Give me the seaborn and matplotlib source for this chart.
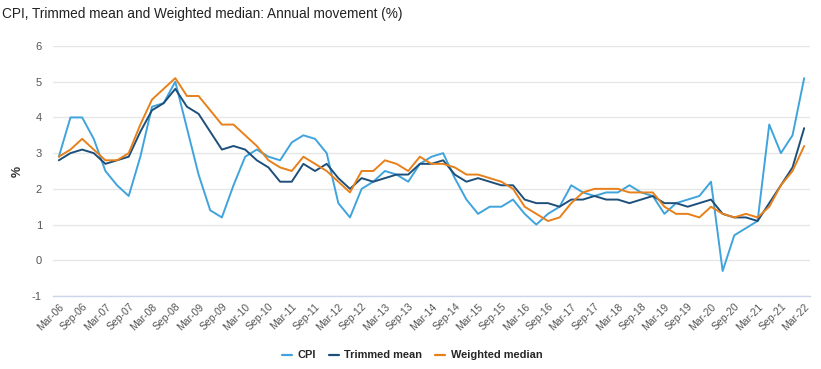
import numpy as np
import pandas as pd
import matplotlib
matplotlib.use("Agg")
import matplotlib.pyplot as plt
import seaborn as sns

# quarterly periods Mar-06 .. Mar-22
quarters = []
for yr in range(6, 23):
    for m in ["Mar", "Jun", "Sep", "Dec"]:
        quarters.append(f"{m}-{yr:02d}")
quarters = quarters[:65]

cpi = [2.9, 4.0, 4.0, 3.4, 2.5, 2.1, 1.8, 2.9, 4.3, 4.4, 5.0, 3.7, 2.4, 1.4, 1.2, 2.1,
       2.9, 3.1, 2.9, 2.8, 3.3, 3.5, 3.4, 3.0, 1.6, 1.2, 2.0, 2.2, 2.5, 2.4, 2.2, 2.7,
       2.9, 3.0, 2.3, 1.7, 1.3, 1.5, 1.5, 1.7, 1.3, 1.0, 1.3, 1.5, 2.1, 1.9, 1.8, 1.9,
       1.9, 2.1, 1.9, 1.8, 1.3, 1.6, 1.7, 1.8, 2.2, -0.3, 0.7, 0.9, 1.1, 3.8, 3.0, 3.5,
       5.1]
trimmed_mean = [2.8, 3.0, 3.1, 3.0, 2.7, 2.8, 2.9, 3.6, 4.2, 4.4, 4.8, 4.3, 4.1, 3.6, 3.1, 3.2,
                3.1, 2.8, 2.6, 2.2, 2.2, 2.7, 2.5, 2.7, 2.3, 2.0, 2.3, 2.2, 2.3, 2.4, 2.4, 2.7,
                2.7, 2.8, 2.4, 2.2, 2.3, 2.2, 2.1, 2.1, 1.7, 1.6, 1.6, 1.5, 1.7, 1.7, 1.8, 1.7,
                1.7, 1.6, 1.7, 1.8, 1.6, 1.6, 1.5, 1.6, 1.7, 1.3, 1.2, 1.2, 1.1, 1.6, 2.1, 2.6,
                3.7]
weighted_median = [2.9, 3.1, 3.4, 3.1, 2.8, 2.8, 3.0, 3.8, 4.5, 4.8, 5.1, 4.6, 4.6, 4.2, 3.8, 3.8,
                   3.5, 3.2, 2.8, 2.6, 2.5, 2.9, 2.7, 2.5, 2.2, 1.9, 2.5, 2.5, 2.8, 2.7, 2.5, 2.9,
                   2.7, 2.7, 2.6, 2.4, 2.4, 2.3, 2.2, 2.0, 1.5, 1.3, 1.1, 1.2, 1.6, 1.9, 2.0, 2.0,
                   2.0, 1.9, 1.9, 1.9, 1.5, 1.3, 1.3, 1.2, 1.5, 1.3, 1.2, 1.3, 1.2, 1.5, 2.1, 2.5,
                   3.2]

series_names = ["CPI", "Trimmed mean", "Weighted median"]
colors = ["#40a4dc", "#1d4f7a", "#e8801a"]

df = pd.DataFrame({
    "idx": list(range(65)) * 3,
    "value": cpi + trimmed_mean + weighted_median,
    "series": ["CPI"] * 65 + ["Trimmed mean"] * 65 + ["Weighted median"] * 65,
})

sns.set_style("white")
plt.rcParams['font.family'] = ['Liberation Sans', 'DejaVu Sans']
plt.rcParams['axes.unicode_minus'] = False

fig = plt.figure(figsize=(8.21, 3.69), dpi=100)
ax = fig.add_axes([53 / 821, 1 - 296 / 369, 757 / 821, 250 / 369])

sns.lineplot(data=df, x="idx", y="value", hue="series", hue_order=series_names,
             palette=colors, linewidth=1.4, ax=ax, legend=False)

ax.set_xlim(-0.5, 64.5)
ax.set_ylim(-1, 6)
ax.set_yticks(range(-1, 7))
ax.grid(axis="y", color="#e6e6e6", linewidth=1)
ax.set_axisbelow(True)
for s in ["top", "right", "left"]:
    ax.spines[s].set_visible(False)
ax.spines["bottom"].set_color("#ccd6eb")
ax.spines["bottom"].set_linewidth(1)

ax.set_xticks(range(0, 65, 2))
ax.set_xticklabels(quarters[::2], rotation=45, ha="right", rotation_mode="anchor",
                   fontsize=7.5, color="#555555")
ax.tick_params(axis="x", length=0, pad=4)
ax.tick_params(axis="y", length=0, labelsize=8, labelcolor="#555555", pad=8)
ax.set_xlabel("")
ax.set_ylabel("%", fontsize=9, fontweight="bold", color="#333333", labelpad=6)

fig.text(0.003, 0.962, "CPI, Trimmed mean and Weighted median: Annual movement (%)",
         fontsize=9.8, color="#222222", ha="left", va="center")

handles = [plt.Line2D([], [], color=c, linewidth=1.6) for c in colors]
fig.legend(handles, series_names, loc="center", bbox_to_anchor=(0.502, 0.037), ncol=3,
           frameon=False, handlelength=0.9, columnspacing=1.2,
           handletextpad=0.5, prop={"weight": "bold", "size": 7.9})

fig.savefig("out.png", dpi=100)
